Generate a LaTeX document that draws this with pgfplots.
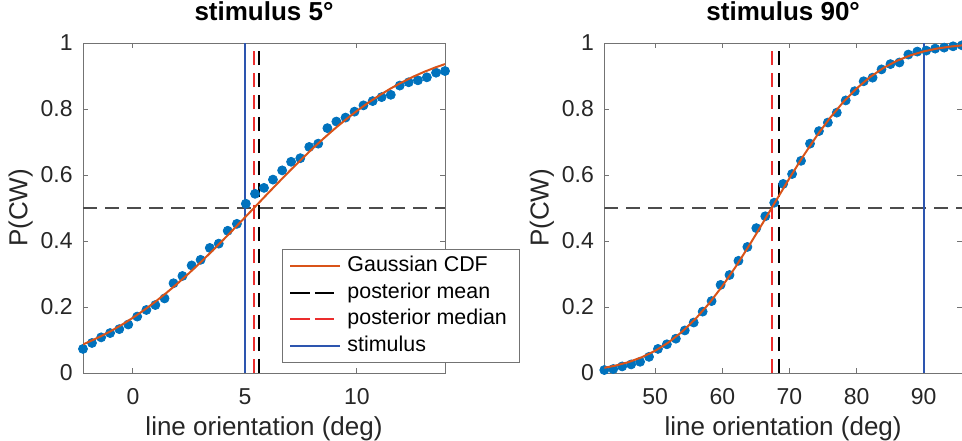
\documentclass[border=0pt]{standalone}
\usepackage{fontspec}
\setmainfont{Liberation Sans}
\usepackage{pgfplots}
\usepackage{pgfplotstable}
\pgfplotsset{compat=1.18}

\definecolor{mdot}{RGB}{0,114,189}
\definecolor{mcdf}{RGB}{217,83,25}
\definecolor{mstim}{RGB}{45,85,175}
\definecolor{mred}{RGB}{235,45,45}
\definecolor{mtick}{RGB}{38,38,38}

% measured proportions P(CW), stimulus 5 deg
\pgfplotstableread{
x y
-2.23 0.073
-1.83 0.091
-1.42 0.108
-1.02 0.121
-0.61 0.133
-0.21 0.147
0.19 0.171
0.60 0.191
1.00 0.206
1.41 0.226
1.81 0.272
2.21 0.294
2.62 0.326
3.02 0.343
3.43 0.379
3.83 0.392
4.23 0.431
4.64 0.452
5.04 0.513
5.45 0.543
5.85 0.561
6.25 0.586
6.66 0.614
7.06 0.640
7.47 0.651
7.87 0.685
8.27 0.695
8.68 0.742
9.08 0.762
9.49 0.774
9.89 0.792
10.29 0.811
10.70 0.824
11.10 0.836
11.51 0.843
11.91 0.871
12.31 0.881
12.72 0.887
13.12 0.896
13.53 0.910
13.93 0.915
}\dotsA

% fitted Gaussian CDF, stimulus 5 deg
\pgfplotstableread{
x y
-2.23 0.0865
-1.5 0.1090
-1 0.1265
-0.5 0.1460
0 0.1675
0.5 0.1908
1 0.2160
1.5 0.2431
2 0.2719
2.5 0.3023
3 0.3341
3.5 0.3672
4 0.4013
4.5 0.4362
5 0.4715
5.5 0.5071
6 0.5427
6.5 0.5779
7 0.6125
7.5 0.6462
8 0.6788
8.5 0.7101
9 0.7399
9.5 0.7680
10 0.7943
10.5 0.8188
11 0.8413
11.5 0.8620
12 0.8807
12.5 0.8976
13 0.9126
13.5 0.9260
13.93 0.9361
}\cdfA

% measured proportions P(CW), stimulus 90 deg
\pgfplotstableread{
x y
42.42 0.009
43.75 0.012
45.08 0.020
46.42 0.026
47.75 0.034
49.08 0.049
50.41 0.073
51.74 0.087
53.08 0.104
54.41 0.129
55.74 0.153
57.07 0.186
58.40 0.218
59.74 0.267
61.07 0.297
62.40 0.340
63.73 0.382
65.06 0.439
66.40 0.475
67.73 0.516
69.06 0.573
70.39 0.603
71.72 0.643
73.06 0.695
74.39 0.733
75.72 0.759
77.05 0.789
78.38 0.826
79.72 0.854
81.05 0.884
82.38 0.895
83.71 0.920
85.04 0.936
86.38 0.941
87.71 0.965
89.04 0.974
90.37 0.977
91.70 0.983
93.04 0.986
94.37 0.990
95.70 0.993
}\dotsB

% fitted Gaussian CDF, stimulus 90 deg
\pgfplotstableread{
x y
42.42 0.0158
44 0.0221
46 0.0328
48 0.0477
50 0.0674
52 0.0929
54 0.1249
56 0.1639
58 0.2101
60 0.2632
62 0.3223
64 0.3864
66 0.4537
68 0.5223
70 0.5903
72 0.6558
74 0.7168
76 0.7721
78 0.8207
80 0.8623
82 0.8967
84 0.9244
86 0.9461
88 0.9625
90 0.9746
92 0.9832
94 0.9892
95.7 0.9927
}\cdfB

\pgfplotsset{
  psy/.style={
    scale only axis,
    height=165pt,
    ymin=0, ymax=1,
    ytick={0,0.2,0.4,0.6,0.8,1},
    tick align=inside,
    major tick length=2.5pt,
    axis line style={black!55, line width=0.5pt},
    every tick/.style={black!55, line width=0.5pt},
    tick label style={font=\fontsize{11.5}{13}\selectfont, text=mtick},
    /pgf/number format/assume math mode=true,
    xticklabel style={anchor=base, yshift=-15.5pt},
    yticklabel style={anchor=east, inner sep=0pt, xshift=-5pt},
    xlabel={line orientation (deg)},
    ylabel={P(CW)},
    xlabel style={font=\fontsize{13}{15}\selectfont, text=mtick,
      at={(axis description cs:0.5,0)}, anchor=base, yshift=-31pt},
    ylabel style={font=\fontsize{13}{15}\selectfont, text=mtick,
      anchor=south, inner sep=0pt},
    title style={font=\bfseries\fontsize{13}{15}\selectfont,
      at={(axis description cs:0.5,1)}, anchor=base, yshift=5.2pt},
    clip mode=individual,
    legend image code/.code={\draw[#1] (0pt,0pt) -- (25pt,0pt);},
  },
  dots/.style={only marks, mark=*, mark size=2.25pt,
    mark options={draw=mdot, fill=mdot}},
  cdf/.style={mcdf, line width=1pt},
  half/.style={black!70, line width=0.7pt, dash pattern=on 7pt off 4pt},
  vdash/.style={line width=1pt, dash pattern=on 7pt off 4pt,
    legend image code/.code={\draw[##1, dash pattern=on 9.75pt off 2.5pt] (0pt,0pt) -- (22pt,0pt);}},
  stim/.style={mstim, line width=1pt},
}

\begin{document}
\begin{tikzpicture}

\begin{axis}[psy,
  at={(0,0)}, anchor=south west,
  width=181pt,
  xmin=-2.23, xmax=13.93,
  xtick={0,5,10},
  title={stimulus 5°},
  ylabel style={at={(axis description cs:-0.138,0.5)}},
  legend style={at={(axis description cs:0.5497,0.0303)}, anchor=south west,
    draw=black!55, line width=0.5pt, fill=white,
    font=\fontsize{10.7}{13}\selectfont,
    inner xsep=3.5pt, inner ysep=1.5pt, row sep=0pt,
    cells={anchor=west},
    nodes={text height=8pt, text depth=2.5pt, inner ysep=1.45pt, inner xsep=3pt}},
]
\addplot[half, forget plot] coordinates {(-2.23,0.5) (13.93,0.5)};
\addplot[stim, forget plot] coordinates {(5,0) (5,1)};
\addplot[vdash, mred, forget plot] coordinates {(5.40,0) (5.40,1)};
\addplot[vdash, black, forget plot] coordinates {(5.64,0) (5.64,1)};
\addplot[dots, forget plot] table {\dotsA};
\addplot[cdf] table {\cdfA};
\addlegendentry{Gaussian CDF}
\addlegendimage{vdash, black}
\addlegendentry{posterior mean}
\addlegendimage{vdash, mred}
\addlegendentry{posterior median}
\addlegendimage{stim}
\addlegendentry{stimulus}
\end{axis}

\begin{axis}[psy,
  at={(260.65pt,0)}, anchor=south west,
  width=178.85pt,
  xmin=42.42, xmax=95.7,
  xtick={50,60,70,80,90},
  title={stimulus 90°},
  ylabel style={at={(axis description cs:-0.1398,0.5)}},
]
\addplot[half] coordinates {(42.42,0.5) (95.7,0.5)};
\addplot[stim] coordinates {(90,0) (90,1)};
\addplot[vdash, mred] coordinates {(67.34,0) (67.34,1)};
\addplot[vdash, black] coordinates {(68.50,0) (68.50,1)};
\addplot[dots] table {\dotsB};
\addplot[cdf] table {\cdfB};
\end{axis}

\pgfresetboundingbox
\path[use as bounding box] (-41.5pt,-33.5pt) rectangle (439.5pt,186.5pt);
\end{tikzpicture}
\end{document}
